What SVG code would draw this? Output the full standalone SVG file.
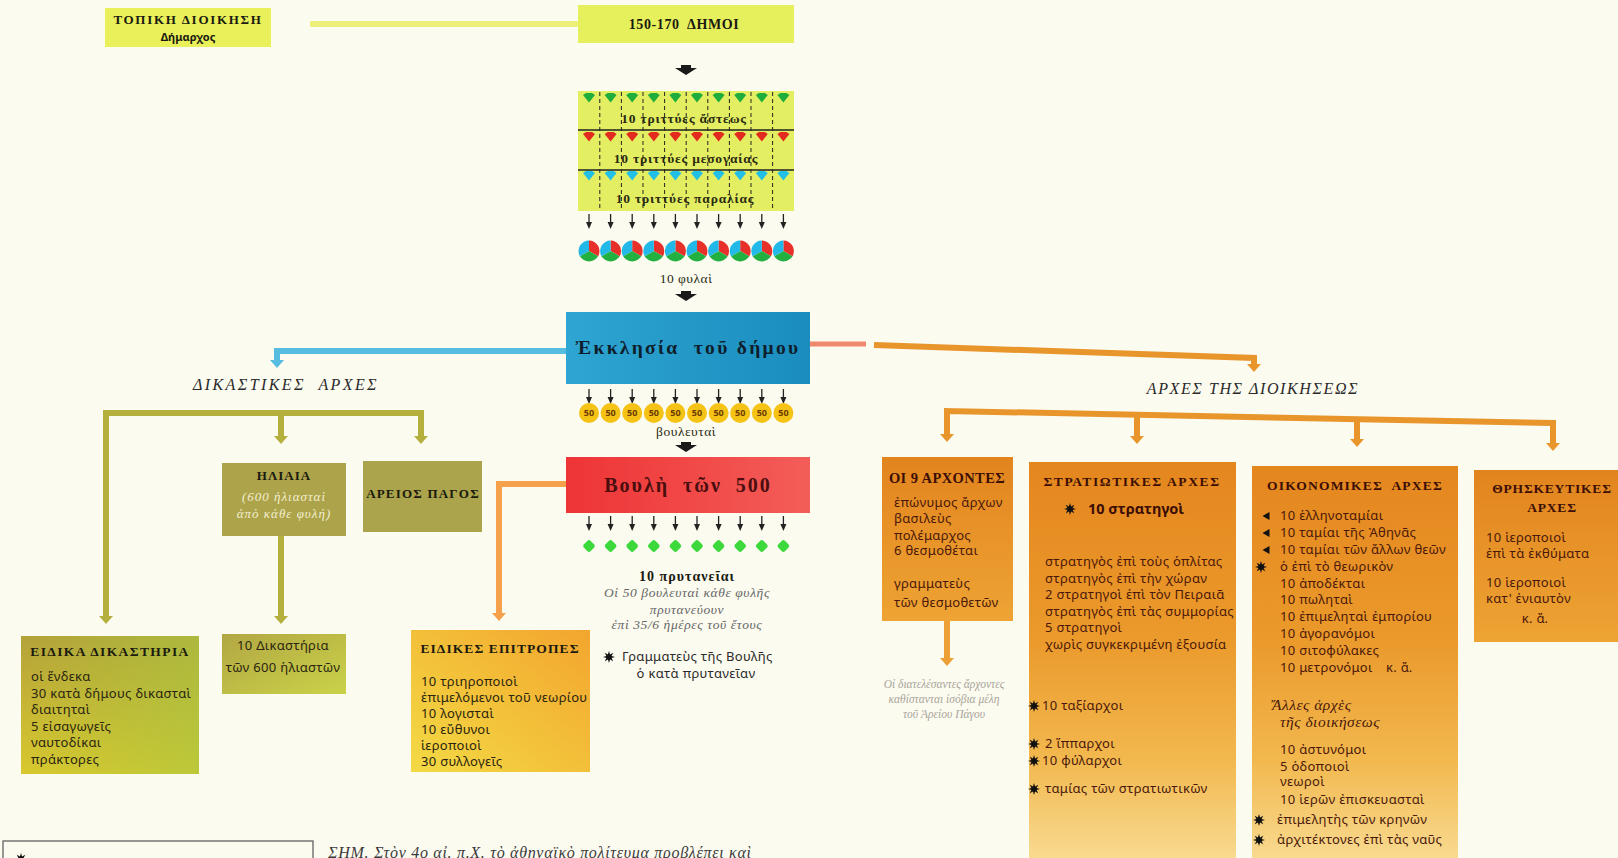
<svg xmlns="http://www.w3.org/2000/svg" width="1618" height="858" viewBox="0 0 1618 858">
<defs>
<style>
.hs{font-family:"Liberation Serif","DejaVu Serif",serif;font-weight:bold;}
.sn{font-family:"Noto Sans","DejaVu Sans",sans-serif;font-size:13px;letter-spacing:0.3px;}
.it{font-family:"Liberation Serif","DejaVu Serif",serif;font-style:italic;}
.gs{font-family:"Liberation Serif","DejaVu Serif",serif;font-weight:bold;font-size:13.5px;letter-spacing:0.8px;fill:#2a2a12;}
.gn{font-family:"Liberation Serif","DejaVu Serif",serif;font-weight:normal;font-size:13.5px;letter-spacing:0.5px;fill:#2a2a12;}
.c{text-anchor:middle;}
.ob{fill:#4a180a;}
.lt{fill:#2a2410;}
.pre{white-space:pre;}
</style>
<linearGradient id="gEk" x1="0" y1="0" x2="1" y2="0"><stop offset="0" stop-color="#2ea5d2"/><stop offset="1" stop-color="#1a8dbe"/></linearGradient>
<linearGradient id="gBo" x1="0" y1="0" x2="1" y2="0"><stop offset="0" stop-color="#ee3436"/><stop offset="1" stop-color="#f35d58"/></linearGradient>
<linearGradient id="gEid" x1="0" y1="0" x2="0" y2="1"><stop offset="0" stop-color="#b4a23a"/><stop offset="1" stop-color="#d9c82e"/></linearGradient>
<linearGradient id="gEidH" x1="0" y1="0" x2="1" y2="0"><stop offset="0" stop-color="#a8c840" stop-opacity="0"/><stop offset="1" stop-color="#a8c840" stop-opacity="0.6"/></linearGradient>
<linearGradient id="gDik" x1="0" y1="0" x2="1" y2="1"><stop offset="0" stop-color="#b2a744"/><stop offset="1" stop-color="#cad248"/></linearGradient>
<linearGradient id="gEp" x1="1" y1="0" x2="0" y2="1"><stop offset="0" stop-color="#f3a52e"/><stop offset="1" stop-color="#f3da44"/></linearGradient>
<linearGradient id="gOr" x1="0" y1="0" x2="0" y2="1"><stop offset="0" stop-color="#e4861e"/><stop offset="0.45" stop-color="#eb9a2c"/><stop offset="0.75" stop-color="#f2b84e"/><stop offset="1" stop-color="#f8da90"/></linearGradient>
<linearGradient id="gOr2" x1="0" y1="0" x2="0" y2="1"><stop offset="0" stop-color="#e2841e"/><stop offset="1" stop-color="#eea434"/></linearGradient>
<polygon id="star" points="0,-6 1.07,-2.59 4.24,-4.24 2.59,-1.07 6,0 2.59,1.07 4.24,4.24 1.07,2.59 0,6 -1.07,2.59 -4.24,4.24 -2.59,1.07 -6,0 -2.59,-1.07 -4.24,-4.24 -1.07,-2.59" fill="#111"/>
<polygon id="tri" points="3.5,-4 3.5,4 -3.5,0" fill="#111"/>
<polygon id="gem" points="-6,-3 -3,-5 3,-5 6,-3 0,4.5"/>
<g id="sa"><line x1="0" y1="0" x2="0" y2="10" stroke="#222" stroke-width="1.3"/><polygon points="-3,8 3,8 0,15" fill="#222"/></g>
<path id="fa" d="M-5,0 H5 V3 H11 L0,10 L-11,3 H-5 Z" fill="#1a1a1a"/>
<g id="pie">
<path d="M0,0 L0,-10.5 A10.5,10.5 0 0 1 9.09,5.25 Z" fill="#e8302a"/>
<path d="M0,0 L9.09,5.25 A10.5,10.5 0 0 1 -9.09,5.25 Z" fill="#22b040"/>
<path d="M0,0 L-9.09,5.25 A10.5,10.5 0 0 1 0,-10.5 Z" fill="#22b8e8"/>
</g>
<g id="c50"><circle r="10" fill="#f5c216"/><text y="3.2" class="c" font-family="Noto Sans,DejaVu Sans,sans-serif" font-weight="bold" font-size="9" fill="#6a3a00">50</text></g>
<rect id="pry" x="-4.8" y="-4.8" width="9.6" height="9.6" rx="2.5" transform="rotate(45)" fill="#3cd83c"/>
</defs>

<rect width="1618" height="858" fill="#fcfbf0"/>

<g id="connectors">
<line x1="310" y1="24" x2="578" y2="24" stroke="#ecf07a" stroke-width="6"/>
<path d="M566,351 H277 V360" fill="none" stroke="#56bce0" stroke-width="6"/>
<polygon points="270,360 284,360 277,368" fill="#56bce0"/>
<line x1="810" y1="344" x2="866" y2="344" stroke="#f0886c" stroke-width="5"/>
<path d="M874,345 L1254,358 V364" fill="none" stroke="#e8962c" stroke-width="6"/>
<polygon points="1247,364 1261,364 1254,372" fill="#e8962c"/>
<path d="M947,434 V411 L1553,423 V443" fill="none" stroke="#e8962c" stroke-width="6"/>
<line x1="1137" y1="415" x2="1137" y2="436" stroke="#e8962c" stroke-width="6"/>
<line x1="1357" y1="419" x2="1357" y2="439" stroke="#e8962c" stroke-width="6"/>
<polygon points="940,434 954,434 947,442" fill="#e8962c"/>
<polygon points="1130,436 1144,436 1137,444" fill="#e8962c"/>
<polygon points="1350,439 1364,439 1357,447" fill="#e8962c"/>
<polygon points="1546,443 1560,443 1553,451" fill="#e8962c"/>
<path d="M106,616 V413 H421 V436" fill="none" stroke="#b5b03e" stroke-width="6"/>
<line x1="281" y1="413" x2="281" y2="436" stroke="#b5b03e" stroke-width="6"/>
<polygon points="99,616 113,616 106,624" fill="#b5b03e"/>
<polygon points="274,436 288,436 281,444" fill="#b5b03e"/>
<polygon points="414,436 428,436 421,444" fill="#b5b03e"/>
<line x1="281" y1="535" x2="281" y2="616" stroke="#b5b03e" stroke-width="6"/>
<polygon points="274,616 288,616 281,624" fill="#b5b03e"/>
<path d="M566,484 H499 V613" fill="none" stroke="#f5a04a" stroke-width="6"/>
<polygon points="492,613 506,613 499,621" fill="#f5a04a"/>
<line x1="947" y1="621" x2="947" y2="658" stroke="#eda035" stroke-width="6"/>
<polygon points="940,658 954,658 947,666" fill="#eda035"/>
<use href="#fa" x="686" y="65"/>
<use href="#fa" x="686" y="291"/>
<use href="#fa" x="686" y="442"/>
</g>

<g id="topiki">
<rect x="105" y="8" width="166" height="39" fill="#e9f05a"/>
<text x="188" y="24" class="hs c" font-size="13" letter-spacing="1.7" fill="#1a1a10">ΤΟΠΙΚΗ ΔΙΟΙΚΗΣΗ</text>
<text x="188" y="41" class="c" font-family="Noto Sans,DejaVu Sans,sans-serif" font-weight="bold" font-size="11" fill="#1a1a10">Δήμαρχος</text>
</g>

<g id="dimoi">
<rect x="578" y="5" width="216" height="38" fill="#e6ef5c"/>
<text x="684" y="29" class="hs c pre" font-size="14" letter-spacing="0.6" fill="#1a1a10">150-170  ΔΗΜΟΙ</text>
</g>

<g id="trittyes">
<rect x="578" y="91" width="216" height="120" fill="#e4ee62"/>
<g stroke="#222" stroke-width="1" stroke-dasharray="4,3">
<line x1="599.8" y1="92" x2="599.8" y2="210"/><line x1="621.4" y1="92" x2="621.4" y2="210"/><line x1="643" y1="92" x2="643" y2="210"/><line x1="664.6" y1="92" x2="664.6" y2="210"/><line x1="686.2" y1="92" x2="686.2" y2="210"/><line x1="707.8" y1="92" x2="707.8" y2="210"/><line x1="729.4" y1="92" x2="729.4" y2="210"/><line x1="751" y1="92" x2="751" y2="210"/><line x1="772.6" y1="92" x2="772.6" y2="210"/>
</g>
<line x1="578" y1="130" x2="794" y2="130" stroke="#222" stroke-width="1.3"/>
<line x1="578" y1="170" x2="794" y2="170" stroke="#222" stroke-width="1.3"/>
<g fill="#1fae3c">
<use href="#gem" x="589" y="98"/><use href="#gem" x="610.6" y="98"/><use href="#gem" x="632.2" y="98"/><use href="#gem" x="653.8" y="98"/><use href="#gem" x="675.4" y="98"/><use href="#gem" x="697" y="98"/><use href="#gem" x="718.6" y="98"/><use href="#gem" x="740.2" y="98"/><use href="#gem" x="761.8" y="98"/><use href="#gem" x="783.4" y="98"/>
</g>
<g fill="#e32a1e">
<use href="#gem" x="589" y="137"/><use href="#gem" x="610.6" y="137"/><use href="#gem" x="632.2" y="137"/><use href="#gem" x="653.8" y="137"/><use href="#gem" x="675.4" y="137"/><use href="#gem" x="697" y="137"/><use href="#gem" x="718.6" y="137"/><use href="#gem" x="740.2" y="137"/><use href="#gem" x="761.8" y="137"/><use href="#gem" x="783.4" y="137"/>
</g>
<g fill="#22bfe6">
<use href="#gem" x="589" y="176"/><use href="#gem" x="610.6" y="176"/><use href="#gem" x="632.2" y="176"/><use href="#gem" x="653.8" y="176"/><use href="#gem" x="675.4" y="176"/><use href="#gem" x="697" y="176"/><use href="#gem" x="718.6" y="176"/><use href="#gem" x="740.2" y="176"/><use href="#gem" x="761.8" y="176"/><use href="#gem" x="783.4" y="176"/>
</g>
<text x="684" y="123" class="gs c">10 τριττύες ἄστεως</text>
<text x="686" y="163" class="gs c">10 τριττύες μεσογαίας</text>
<text x="685" y="203" class="gs c">10 τριττύες παραλίας</text>
</g>

<g id="arrows1">
<use href="#sa" x="589" y="214"/><use href="#sa" x="610.6" y="214"/><use href="#sa" x="632.2" y="214"/><use href="#sa" x="653.8" y="214"/><use href="#sa" x="675.4" y="214"/><use href="#sa" x="697" y="214"/><use href="#sa" x="718.6" y="214"/><use href="#sa" x="740.2" y="214"/><use href="#sa" x="761.8" y="214"/><use href="#sa" x="783.4" y="214"/>
</g>

<g id="fylai">
<use href="#pie" x="589" y="251"/><use href="#pie" x="610.6" y="251"/><use href="#pie" x="632.2" y="251"/><use href="#pie" x="653.8" y="251"/><use href="#pie" x="675.4" y="251"/><use href="#pie" x="697" y="251"/><use href="#pie" x="718.6" y="251"/><use href="#pie" x="740.2" y="251"/><use href="#pie" x="761.8" y="251"/><use href="#pie" x="783.4" y="251"/>
<text x="686" y="283" class="gn c">10 φυλαὶ</text>
</g>

<g id="ekklesia">
<rect x="566" y="312" width="244" height="72" fill="url(#gEk)"/>
<text x="688" y="354" class="hs c pre" font-size="19.5" letter-spacing="2.3" fill="#0e1e2c">Ἐκκλησία  τοῦ δήμου</text>
</g>

<g id="arrows2">
<use href="#sa" x="589" y="389"/><use href="#sa" x="610.6" y="389"/><use href="#sa" x="632.2" y="389"/><use href="#sa" x="653.8" y="389"/><use href="#sa" x="675.4" y="389"/><use href="#sa" x="697" y="389"/><use href="#sa" x="718.6" y="389"/><use href="#sa" x="740.2" y="389"/><use href="#sa" x="761.8" y="389"/><use href="#sa" x="783.4" y="389"/>
</g>

<g id="bouleutai">
<use href="#c50" x="589" y="413"/><use href="#c50" x="610.6" y="413"/><use href="#c50" x="632.2" y="413"/><use href="#c50" x="653.8" y="413"/><use href="#c50" x="675.4" y="413"/><use href="#c50" x="697" y="413"/><use href="#c50" x="718.6" y="413"/><use href="#c50" x="740.2" y="413"/><use href="#c50" x="761.8" y="413"/><use href="#c50" x="783.4" y="413"/>
<text x="686" y="436" class="gn c">βουλευταὶ</text>
</g>

<g id="boule">
<rect x="566" y="457" width="244" height="56" fill="url(#gBo)"/>
<text x="688" y="492" class="hs c pre" font-size="20" letter-spacing="2" fill="#4a0e0e">Βουλὴ  τῶν  500</text>
</g>

<g id="arrows3">
<use href="#sa" x="589" y="516"/><use href="#sa" x="610.6" y="516"/><use href="#sa" x="632.2" y="516"/><use href="#sa" x="653.8" y="516"/><use href="#sa" x="675.4" y="516"/><use href="#sa" x="697" y="516"/><use href="#sa" x="718.6" y="516"/><use href="#sa" x="740.2" y="516"/><use href="#sa" x="761.8" y="516"/><use href="#sa" x="783.4" y="516"/>
</g>

<g id="prytaneiai">
<use href="#pry" x="589" y="546"/><use href="#pry" x="610.6" y="546"/><use href="#pry" x="632.2" y="546"/><use href="#pry" x="653.8" y="546"/><use href="#pry" x="675.4" y="546"/><use href="#pry" x="697" y="546"/><use href="#pry" x="718.6" y="546"/><use href="#pry" x="740.2" y="546"/><use href="#pry" x="761.8" y="546"/><use href="#pry" x="783.4" y="546"/>
<text x="687" y="581" class="hs c" font-size="14" letter-spacing="1" fill="#1a1a12">10 πρυτανεῖαι</text>
<text x="687" y="597" class="it c" font-size="13.5" letter-spacing="0.6" fill="#666">Οἱ 50 βουλευταὶ κάθε φυλῆς</text>
<text x="687" y="614" class="it c" font-size="13.5" letter-spacing="0.6" fill="#666">πρυτανεύουν</text>
<text x="687" y="629" class="it c" font-size="13.5" letter-spacing="0.6" fill="#666">ἐπὶ 35/6 ἡμέρες τοῦ ἔτους</text>
<use href="#star" x="609" y="657"/>
<text x="622" y="661" class="sn" fill="#2a2a2a">Γραμματεὺς τῆς Βουλῆς</text>
<text x="696" y="678" class="sn c" fill="#2a2a2a">ὁ κατὰ πρυτανεῖαν</text>
</g>

<g id="dikastikes-label">
<text x="286" y="390" class="it c pre" font-size="16" letter-spacing="2.4" fill="#2a2a2a">ΔΙΚΑΣΤΙΚΕΣ  ΑΡΧΕΣ</text>
</g>

<g id="iliaia">
<rect x="222" y="463" width="124" height="73" fill="#aca34a"/>
<text x="284" y="480" class="hs c" font-size="13" letter-spacing="1" fill="#1a1a0e">ΗΛΙΑΙΑ</text>
<text x="284" y="501" class="it c" font-size="13" letter-spacing="1" fill="#f4efd0">(600 ἡλιασταὶ</text>
<text x="284" y="518" class="it c" font-size="13" letter-spacing="1" fill="#f4efd0">ἀπὸ κάθε φυλή)</text>
</g>

<g id="areios">
<rect x="363" y="461" width="119" height="71" fill="#aca44c"/>
<text x="423" y="498" class="hs c" font-size="13" letter-spacing="1.2" fill="#1a1a0e">ΑΡΕΙΟΣ ΠΑΓΟΣ</text>
</g>

<g id="dikastiria">
<rect x="222" y="634" width="124" height="60" fill="url(#gDik)"/>
<text x="283" y="650" class="sn c" fill="#2a2410">10 Δικαστήρια</text>
<text x="283" y="672" class="sn c" fill="#2a2410">τῶν 600 ἡλιαστῶν</text>
</g>

<g id="eidika">
<rect x="21" y="636" width="178" height="138" fill="url(#gEid)"/>
<rect x="21" y="636" width="178" height="138" fill="url(#gEidH)"/>
<text x="110" y="656" class="hs c" font-size="13.5" letter-spacing="1.4" fill="#1a1a0e">ΕΙΔΙΚΑ ΔΙΚΑΣΤΗΡΙΑ</text>
<text x="31" y="681" class="sn lt">οἱ ἕνδεκα</text>
<text x="31" y="698" class="sn lt">30 κατὰ δήμους δικασταὶ</text>
<text x="31" y="714" class="sn lt">διαιτηταὶ</text>
<text x="31" y="731" class="sn lt">5 εἰσαγωγεῖς</text>
<text x="31" y="747" class="sn lt">ναυτοδίκαι</text>
<text x="31" y="764" class="sn lt">πράκτορες</text>
</g>

<g id="epitropes">
<rect x="411" y="630" width="179" height="142" fill="url(#gEp)"/>
<text x="500" y="653" class="hs c" font-size="13.5" letter-spacing="1.1" fill="#1a1a0e">ΕΙΔΙΚΕΣ ΕΠΙΤΡΟΠΕΣ</text>
<text x="421" y="686" class="sn lt">10 τριηροποιοὶ</text>
<text x="421" y="702" class="sn lt">ἐπιμελόμενοι τοῦ νεωρίου</text>
<text x="421" y="718" class="sn lt">10 λογισταὶ</text>
<text x="421" y="734" class="sn lt">10 εὔθυνοι</text>
<text x="421" y="750" class="sn lt">ἱεροποιοὶ</text>
<text x="421" y="766" class="sn lt">30 συλλογεῖς</text>
</g>

<g id="dioikisi-label">
<text x="1253" y="394" class="it c" font-size="16" letter-spacing="1.6" fill="#2a2a2a">ΑΡΧΕΣ ΤΗΣ ΔΙΟΙΚΗΣΕΩΣ</text>
</g>

<g id="archontes">
<rect x="882" y="457" width="131" height="164" fill="url(#gOr2)"/>
<text x="947" y="483" class="hs c" font-size="14.5" letter-spacing="0.4" fill="#3c0e06">ΟΙ 9 ΑΡΧΟΝΤΕΣ</text>
<text x="894" y="507" class="sn ob">ἐπώνυμος ἄρχων</text>
<text x="894" y="523" class="sn ob">βασιλεὺς</text>
<text x="894" y="540" class="sn ob">πολέμαρχος</text>
<text x="894" y="555" class="sn ob">6 θεσμοθέται</text>
<text x="894" y="588" class="sn ob">γραμματεὺς</text>
<text x="894" y="607" class="sn ob">τῶν θεσμοθετῶν</text>
</g>

<g id="areios-note">
<text x="944" y="688" class="it c" font-size="11.5" fill="#a8a49a">Οἱ διατελέσαντες ἄρχοντες</text>
<text x="944" y="703" class="it c" font-size="11.5" fill="#a8a49a">καθίστανται ἰσόβια μέλη</text>
<text x="944" y="718" class="it c" font-size="11.5" fill="#a8a49a">τοῦ Ἀρείου Πάγου</text>
</g>

<g id="stratiotikes">
<rect x="1029" y="462" width="207" height="396" fill="url(#gOr)"/>
<text x="1132" y="486" class="hs c" font-size="13.5" letter-spacing="1.6" fill="#3c0e06">ΣΤΡΑΤΙΩΤΙΚΕΣ ΑΡΧΕΣ</text>
<use href="#star" x="1070" y="509"/>
<text x="1088" y="514" font-family="Noto Sans,DejaVu Sans,sans-serif" font-weight="bold" font-size="14.5" fill="#3c0e06">10 στρατηγοὶ</text>
<text x="1045" y="566" class="sn ob">στρατηγὸς ἐπὶ τοὺς ὁπλίτας</text>
<text x="1045" y="583" class="sn ob">στρατηγὸς ἐπὶ τὴν χώραν</text>
<text x="1045" y="599" class="sn ob">2 στρατηγοὶ ἐπὶ τὸν Πειραιᾶ</text>
<text x="1045" y="616" class="sn ob">στρατηγὸς ἐπὶ τὰς συμμορίας</text>
<text x="1045" y="632" class="sn ob">5 στρατηγοὶ</text>
<text x="1045" y="649" class="sn ob">χωρὶς συγκεκριμένη ἐξουσία</text>
<use href="#star" x="1034" y="706"/>
<text x="1042" y="710" class="sn ob">10 ταξίαρχοι</text>
<use href="#star" x="1034" y="744"/>
<text x="1045" y="748" class="sn ob">2 ἵππαρχοι</text>
<use href="#star" x="1034" y="761"/>
<text x="1042" y="765" class="sn ob">10 φύλαρχοι</text>
<use href="#star" x="1034" y="789"/>
<text x="1045" y="793" class="sn ob">ταμίας τῶν στρατιωτικῶν</text>
</g>

<g id="oikonomikes">
<rect x="1252" y="466" width="206" height="392" fill="url(#gOr)"/>
<text x="1355" y="490" class="hs c pre" font-size="13.5" letter-spacing="1.2" fill="#3c0e06">ΟΙΚΟΝΟΜΙΚΕΣ  ΑΡΧΕΣ</text>
<use href="#tri" x="1266" y="516"/>
<text x="1280" y="520" class="sn ob">10 ἑλληνοταμίαι</text>
<use href="#tri" x="1266" y="533"/>
<text x="1280" y="537" class="sn ob">10 ταμίαι τῆς Ἀθηνᾶς</text>
<use href="#tri" x="1266" y="550"/>
<text x="1280" y="554" class="sn ob">10 ταμίαι τῶν ἄλλων θεῶν</text>
<use href="#star" x="1261" y="567"/>
<text x="1280" y="571" class="sn ob">ὁ ἐπὶ τὸ θεωρικὸν</text>
<text x="1280" y="588" class="sn ob">10 ἀποδέκται</text>
<text x="1280" y="604" class="sn ob">10 πωληταὶ</text>
<text x="1280" y="621" class="sn ob">10 ἐπιμεληταὶ ἐμπορίου</text>
<text x="1280" y="638" class="sn ob">10 ἀγορανόμοι</text>
<text x="1280" y="655" class="sn ob">10 σιτοφύλακες</text>
<text x="1280" y="672" class="sn ob">10 μετρονόμοι</text>
<text x="1386" y="672" class="sn ob">κ. ἄ.</text>
<text x="1272" y="710" class="it" font-size="15.5" letter-spacing="0.5" fill="#4a180a">Ἄλλες ἀρχὲς</text>
<text x="1280" y="727" class="it" font-size="15.5" letter-spacing="0.5" fill="#4a180a">τῆς διοικήσεως</text>
<text x="1280" y="754" class="sn ob">10 ἀστυνόμοι</text>
<text x="1280" y="771" class="sn ob">5 ὁδοποιοὶ</text>
<text x="1280" y="786" class="sn ob">νεωροὶ</text>
<text x="1280" y="804" class="sn ob">10 ἱερῶν ἐπισκευασταὶ</text>
<use href="#star" x="1259" y="820"/>
<text x="1277" y="824" class="sn ob">ἐπιμελητὴς τῶν κρηνῶν</text>
<use href="#star" x="1259" y="840"/>
<text x="1277" y="844" class="sn ob">ἀρχιτέκτονες ἐπὶ τὰς ναῦς</text>
</g>

<g id="thriskeutikes">
<rect x="1474" y="470" width="144" height="172" fill="url(#gOr2)"/>
<text x="1552" y="493" class="hs c" font-size="13.5" letter-spacing="0.8" fill="#3c0e06">ΘΡΗΣΚΕΥΤΙΚΕΣ</text>
<text x="1552" y="512" class="hs c" font-size="13.5" letter-spacing="0.8" fill="#3c0e06">ΑΡΧΕΣ</text>
<text x="1486" y="542" class="sn ob">10 ἱεροποιοὶ</text>
<text x="1486" y="558" class="sn ob">ἐπὶ τὰ ἐκθύματα</text>
<text x="1486" y="587" class="sn ob">10 ἱεροποιοὶ</text>
<text x="1486" y="603" class="sn ob">κατ' ἐνιαυτὸν</text>
<text x="1535" y="623" class="sn ob c">κ. ἄ.</text>
</g>

<g id="legend">
<rect x="3" y="841" width="310" height="30" fill="none" stroke="#555" stroke-width="1.2"/>
<use href="#star" x="21" y="859"/>
</g>

<g id="note">
<text x="328" y="858" class="it" font-size="16" letter-spacing="0.7" fill="#3a3a3a">ΣΗΜ. Στὸν 4ο αἰ. π.Χ. τὸ ἀθηναϊκὸ πολίτευμα προβλέπει καὶ</text>
</g>
</svg>
